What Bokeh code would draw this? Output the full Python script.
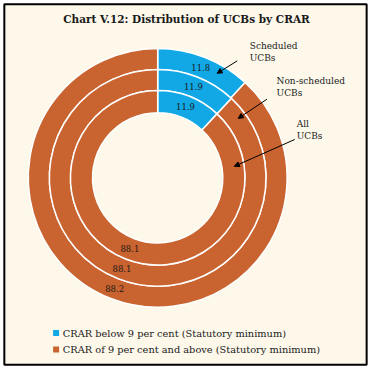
import numpy as np
from bokeh.plotting import figure
from bokeh.models import Range1d, Arrow, NormalHead, ColumnDataSource
from bokeh.embed import file_html
from bokeh.resources import INLINE
from bokeh.core.properties import value

# ---------------- data ----------------
title = "Chart V.12: Distribution of UCBs by CRAR"
rings = ["Scheduled UCBs", "Non-scheduled UCBs", "All UCBs"]   # outer -> inner
below_9 = [11.8, 11.9, 11.9]
above_9 = [88.2, 88.1, 88.1]
series_labels = ["CRAR below 9 per cent (Statutory minimum)",
                 "CRAR of 9 per cent and above (Statutory minimum)"]

# ---------------- style ----------------
BG = "#FDF8EA"
BLUE = "#12A8E6"
ORANGE = "#C9632F"
TXT = "#1a1a1a"
SERIF = "DejaVu Serif"

W, H = 371, 369
S = 0.9585  # reference pixel -> figure pixel


def X(px):
    return px * S


def Y(py):
    return H - py * S


def R(r):
    return r * S


p = figure(width=W, height=H, output_backend="svg", toolbar_location=None,
           x_range=Range1d(0, W), y_range=Range1d(0, H), min_border=0,
           x_axis_location=None, y_axis_location=None)
p.grid.visible = False
p.background_fill_color = "white"
p.border_fill_color = "white"
p.outline_line_color = None

# framed cream panel
p.quad(left=[X(4)], right=[X(382)], top=[Y(4)], bottom=[Y(380)],
       fill_color=BG, line_color="black", line_width=2)

cx, cy = X(164), Y(185)
outer_r = [135, 113, 91]
inner_r = [113, 91, 68]

lab_x, lab_y, lab_t = [], [], []
for i in range(len(rings)):
    tot = below_9[i] + above_9[i]
    frac = below_9[i] / tot
    top = np.pi / 2
    b_start, b_end = top - 2 * np.pi * frac, top
    o_start, o_end = top - 2 * np.pi, top - 2 * np.pi * frac
    p.annular_wedge(x=[cx], y=[cy], inner_radius=R(inner_r[i]), outer_radius=R(outer_r[i]),
                    start_angle=[b_start], end_angle=[b_end],
                    fill_color=BLUE, line_color="white", line_width=1.5)
    p.annular_wedge(x=[cx], y=[cy], inner_radius=R(inner_r[i]), outer_radius=R(outer_r[i]),
                    start_angle=[o_start], end_angle=[o_end],
                    fill_color=ORANGE, line_color="white", line_width=1.5)
    rm = R((inner_r[i] + outer_r[i]) / 2)
    for a0, a1, v in ((b_start, b_end, below_9[i]), (o_start, o_end, above_9[i])):
        am = (a0 + a1) / 2
        lab_x.append(cx + rm * np.cos(am))
        lab_y.append(cy + rm * np.sin(am))
        lab_t.append(f"{v:.1f}")

p.text(x="x", y="y", text="t", source=ColumnDataSource(dict(x=lab_x, y=lab_y, t=lab_t)),
       text_font=value(SERIF), text_font_size="8.5px", text_color=TXT,
       text_align="center", text_baseline="middle")

# title
p.text(x=[X(194)], y=[Y(19)], text=[title], text_font=value(SERIF), text_font_style="bold",
       text_font_size="10.5px", text_color=TXT, text_align="center", text_baseline="middle")

# ring annotations with arrows
ann_pos = [(260, 47), (288, 84), (309, 129)]
arrows = [((247, 63), (226, 76)), ((278, 103), (248, 123)), ((307, 145), (244, 173))]
ax, ay, at = [], [], []
for i, name in enumerate(rings):
    first, last = name.rsplit(" ", 1)
    tx, ty = ann_pos[i]
    ax += [X(tx), X(tx)]
    ay += [Y(ty), Y(ty + 12.5)]
    at += [first, last]
    (sx, sy), (ex, ey) = arrows[i]
    p.add_layout(Arrow(end=NormalHead(size=5, fill_color="black", line_color="black", line_width=1),
                       x_start=X(sx), y_start=Y(sy), x_end=X(ex), y_end=Y(ey),
                       line_color="black", line_width=1))
p.text(x="x", y="y", text="t", source=ColumnDataSource(dict(x=ax, y=ay, t=at)),
       text_font=value(SERIF), text_font_size="9px", text_color=TXT,
       text_align="left", text_baseline="middle")

# legend
leg_y = [Y(347), Y(364)]
p.scatter(x=[X(58)] * 2, y=leg_y, marker="square", size=6,
          fill_color=[BLUE, ORANGE], line_color=None)
p.text(x=[X(65)] * 2, y=leg_y, text=series_labels, text_font=value(SERIF),
       text_font_size="9.8px", text_color=TXT, text_align="left", text_baseline="middle")

open("out.html", "w").write(file_html(p, INLINE))
